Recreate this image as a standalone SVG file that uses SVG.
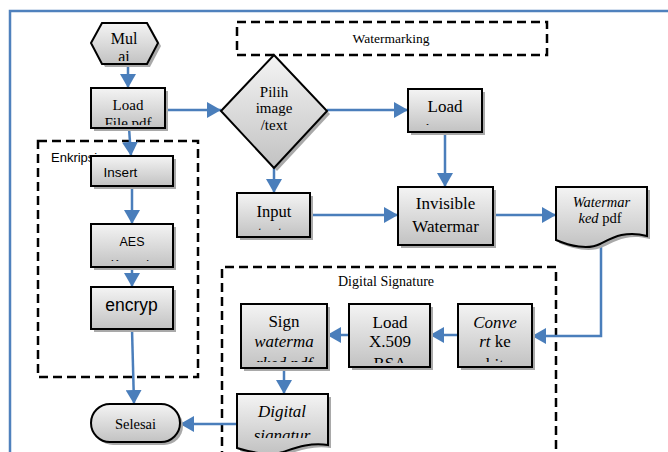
<svg xmlns="http://www.w3.org/2000/svg" width="668" height="452" viewBox="0 0 668 452">
<defs>
<linearGradient id="g" x1="0" y1="0" x2="0" y2="1">
<stop offset="0" stop-color="#f4f4f4"/>
<stop offset="1" stop-color="#c2c2c2"/>
</linearGradient>
<marker id="ah" markerUnits="userSpaceOnUse" markerWidth="16" markerHeight="16" refX="14" refY="8" orient="auto">
<path d="M0,0 L14,8 L0,16 z" fill="#4a7ebb"/>
</marker>
<clipPath id="cMul"><rect x="91" y="23" width="67" height="38"/></clipPath>
<clipPath id="cLF"><rect x="91" y="88" width="74" height="37"/></clipPath>
<clipPath id="cLI"><rect x="408" y="89" width="74" height="36"/></clipPath>
<clipPath id="cIn"><rect x="237" y="193" width="73" height="37"/></clipPath>
<clipPath id="cIW"><rect x="398" y="187" width="95" height="58"/></clipPath>
<clipPath id="cAES"><rect x="91" y="224" width="82" height="37"/></clipPath>
<clipPath id="cCv"><rect x="458" y="304" width="74" height="58"/></clipPath>
<clipPath id="cLX"><rect x="349" y="304" width="81" height="59"/></clipPath>
<clipPath id="cSg"><rect x="241" y="304" width="86" height="58"/></clipPath>
<clipPath id="cDg"><rect x="237" y="394" width="91" height="44"/></clipPath>
</defs>
<style>
.box{fill:url(#g);stroke:#000;stroke-width:2}
.sh{fill:#a9a9a9}
.dash{fill:none;stroke:#000;stroke-width:2.5;stroke-dasharray:9 5}
.c{fill:none;stroke:#4a7ebb;stroke-width:2.5;marker-end:url(#ah)}
.tr{font-family:"Liberation Serif","Times New Roman",serif;fill:#000;text-anchor:middle}
.ss{font-family:"Liberation Sans",Arial,sans-serif;fill:#000;text-anchor:middle}
.i{font-style:italic}
</style>
<rect width="668" height="452" fill="#fff"/>
<path d="M10,452 V11 H668" fill="none" stroke="#4f81bd" stroke-width="2.5"/>

<g id="grp-enkripsi">
<rect class="dash" x="38" y="141" width="160" height="236"/>
<text class="ss" x="51" y="162" font-size="13" style="text-anchor:start">Enkripsi</text>
</g>
<g id="grp-watermarking">
<rect class="dash" x="237" y="22" width="310" height="33"/>
<text class="tr" x="391" y="43" font-size="13.5">Watermarking</text>
</g>
<g id="grp-digsig">
<path class="dash" d="M222,460 V267 H556 V460"/>
<text class="tr" x="338" y="286" font-size="14" style="text-anchor:start">Digital Signature</text>
</g>

<g id="connectors">
<line class="c" x1="128" y1="64" x2="128" y2="88"/>
<line class="c" x1="165" y1="110" x2="221" y2="110"/>
<line class="c" x1="129" y1="128" x2="131" y2="156"/>
<line class="c" x1="132" y1="186" x2="132" y2="224"/>
<line class="c" x1="132" y1="267" x2="132" y2="287"/>
<line class="c" x1="132" y1="329" x2="134" y2="404"/>
<line class="c" x1="327" y1="110" x2="408" y2="110"/>
<line class="c" x1="274" y1="168" x2="274" y2="193"/>
<line class="c" x1="445" y1="132" x2="445" y2="187"/>
<line class="c" x1="310" y1="215" x2="398" y2="215"/>
<line class="c" x1="493" y1="215" x2="556" y2="215"/>
<path class="c" d="M601,244 V336 H532"/>
<line class="c" x1="458" y1="335" x2="430" y2="335"/>
<line class="c" x1="349" y1="335" x2="327" y2="335"/>
<line class="c" x1="284" y1="368" x2="284" y2="394"/>
<line class="c" x1="237" y1="424" x2="180" y2="424"/>
</g>

<g id="mulai">
<polygon class="sh" points="94,46 105,26 150,26 161,46 150,67 105,67"/>
<polygon class="box" points="91,43 102,23 147,23 158,43 147,64 102,64"/>
<g clip-path="url(#cMul)">
<text class="tr" x="124" y="44" font-size="16">Mul</text>
<text class="tr" x="124" y="62" font-size="16">ai</text>
</g>
</g>

<g id="load-file">
<rect class="sh" x="94" y="91" width="74" height="40"/>
<rect class="box" x="91" y="88" width="74" height="40"/>
<g clip-path="url(#cLF)">
<text class="tr" x="128" y="110" font-size="15">Load</text>
<text class="tr" x="128" y="128" font-size="15">File pdf</text>
</g>
</g>

<g id="pilih">
<polygon class="sh" points="224,114 277,58 330,114 277,171"/>
<polygon class="box" points="221,111 274,55 327,111 274,168"/>
<text class="tr" x="274" y="97" font-size="15">Pilih</text>
<text class="tr" x="274" y="113" font-size="15">image</text>
<text class="tr" x="274" y="130" font-size="15">/text</text>
</g>

<g id="load-image">
<rect class="sh" x="411" y="92" width="74" height="43"/>
<rect class="box" x="408" y="89" width="74" height="43"/>
<g clip-path="url(#cLI)">
<text class="tr" x="445" y="112" font-size="17">Load</text>
<text class="tr" x="446" y="135" font-size="17">image</text>
</g>
</g>

<g id="input">
<rect class="sh" x="240" y="196" width="73" height="44"/>
<rect class="box" x="237" y="193" width="73" height="44"/>
<g clip-path="url(#cIn)">
<text class="tr" x="274" y="217" font-size="16.5">Input</text>
<text class="tr" x="270" y="238" font-size="16.5">text</text>
</g>
</g>

<g id="invisible">
<rect class="sh" x="401" y="190" width="95" height="58"/>
<rect class="box" x="398" y="187" width="95" height="58"/>
<g clip-path="url(#cIW)">
<text class="tr" x="445.5" y="209" font-size="17">Invisible</text>
<text class="tr" x="445.5" y="232" font-size="17">Watermar</text>
</g>
</g>

<g id="watermarked-pdf">
<path class="sh" d="M559,190 H650 V239 C628,233 615,241 603,247 C591,253 573,249 559,243 Z"/>
<path class="box" d="M556,187 H647 V236 C625,230 612,238 600,244 C588,250 570,246 556,240 Z"/>
<text class="tr i" x="601.5" y="207" font-size="14.5">Watermar</text>
<text class="tr" x="600" y="223" font-size="14.5"><tspan font-style="italic">ked</tspan> pdf</text>
</g>

<g id="insert">
<rect class="sh" x="94" y="159" width="82" height="30"/>
<rect class="box" x="91" y="156" width="82" height="30"/>
<text class="ss" x="120.5" y="177" font-size="13.5">Insert</text>
</g>

<g id="aes">
<rect class="sh" x="94" y="227" width="82" height="43"/>
<rect class="box" x="91" y="224" width="82" height="43"/>
<g clip-path="url(#cAES)">
<text class="ss" x="132" y="246" font-size="12.5">AES</text>
<text class="ss" x="132" y="269" font-size="12.5">Keypair</text>
</g>
</g>

<g id="encryp">
<rect class="sh" x="94" y="290" width="82" height="42"/>
<rect class="box" x="91" y="287" width="82" height="42"/>
<text class="ss" x="131.5" y="311" font-size="17.5">encryp</text>
</g>

<g id="convert">
<rect class="sh" x="461" y="307" width="74" height="63"/>
<rect class="box" x="458" y="304" width="74" height="63"/>
<g clip-path="url(#cCv)">
<text class="tr i" x="495" y="328" font-size="17">Conve</text>
<text class="tr" x="495" y="347" font-size="17"><tspan font-style="italic">rt</tspan> ke</text>
<text class="tr" x="495" y="370" font-size="17">bit</text>
</g>
</g>

<g id="load-x509">
<rect class="sh" x="352" y="307" width="81" height="63"/>
<rect class="box" x="349" y="304" width="81" height="63"/>
<g clip-path="url(#cLX)">
<text class="tr" x="390" y="328" font-size="17">Load</text>
<text class="tr" x="390" y="347" font-size="17">X.509</text>
<text class="tr" x="390" y="369" font-size="17">RSA</text>
</g>
</g>

<g id="sign">
<rect class="sh" x="244" y="307" width="86" height="64"/>
<rect class="box" x="241" y="304" width="86" height="64"/>
<g clip-path="url(#cSg)">
<text class="tr" x="284" y="327" font-size="17">Sign</text>
<text class="tr i" x="284" y="347" font-size="17">waterma</text>
<text class="tr i" x="284" y="369" font-size="17">rked pdf</text>
</g>
</g>

<g id="digital-signatur">
<path class="sh" d="M240,397 H331 V448 C313,445 298,451 286,455 C273,459 253,455 240,451 Z"/>
<path class="box" d="M237,394 H328 V445 C310,442 295,448 283,452 C270,456 250,452 237,448 Z"/>
<g clip-path="url(#cDg)">
<text class="tr i" x="282" y="417" font-size="17">Digital</text>
<text class="tr i" x="282" y="441" font-size="17">signatur</text>
</g>
</g>

<g id="selesai">
<rect class="sh" x="94" y="407" width="89" height="38" rx="19"/>
<rect class="box" x="91" y="404" width="89" height="38" rx="19"/>
<text class="tr" x="135.5" y="429" font-size="14.5">Selesai</text>
</g>
</svg>
